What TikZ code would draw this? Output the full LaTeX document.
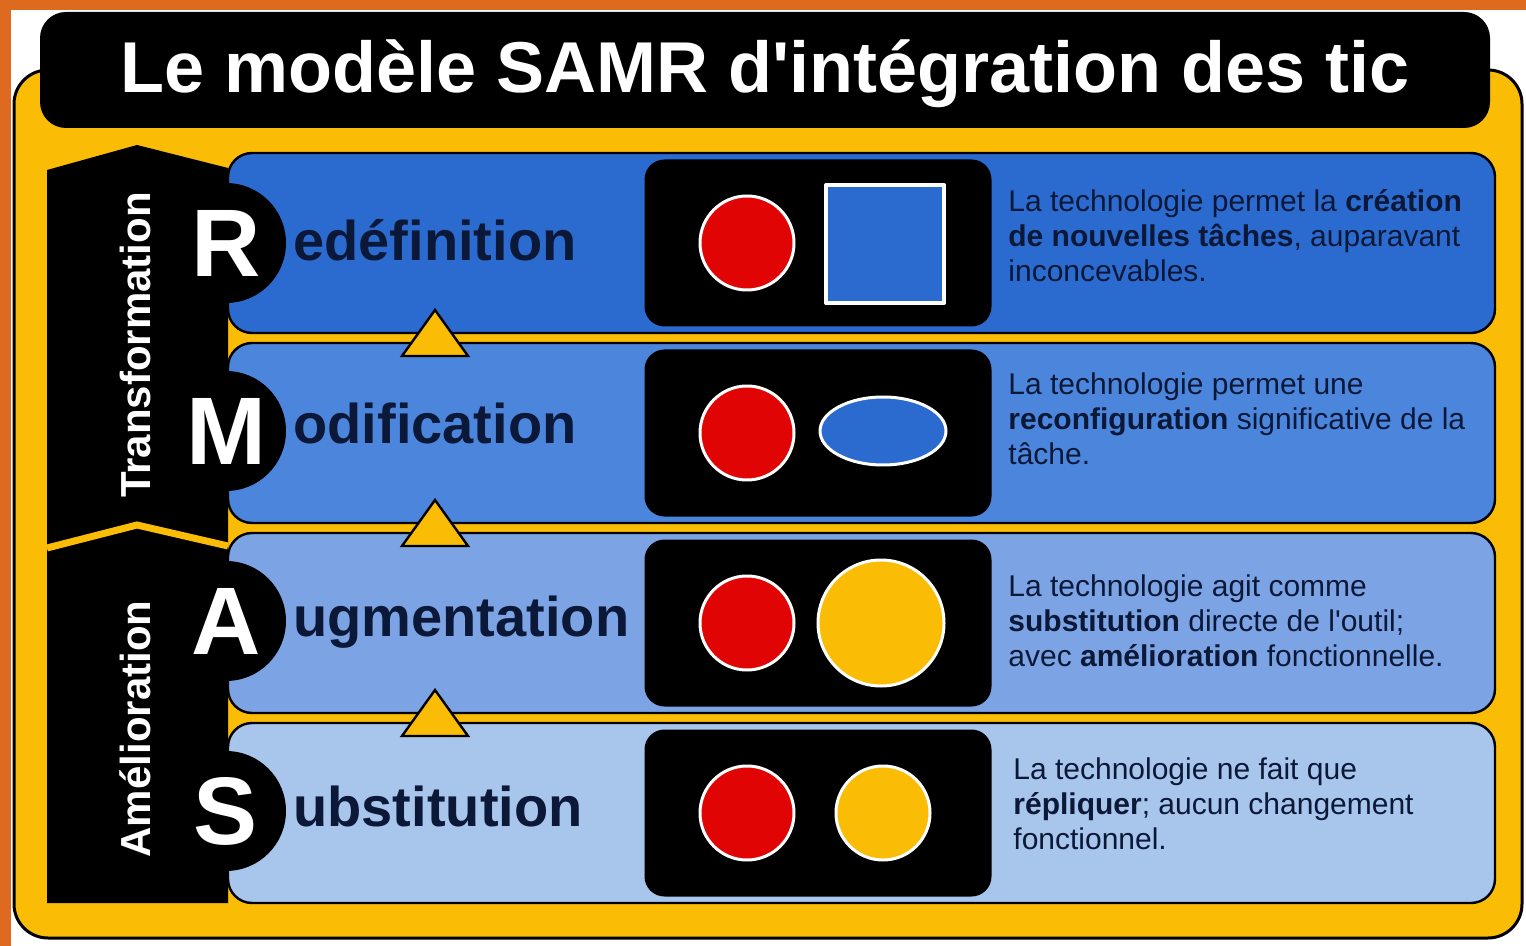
\documentclass[tikz,border=0pt]{standalone}
\usepackage{fontspec}
\setmainfont{Liberation Sans}[Ligatures=TeXOff]
\usetikzlibrary{shapes.geometric}
\definecolor{orangebg}{RGB}{222,106,32}
\definecolor{samryellow}{RGB}{250,188,5}
\definecolor{navy}{RGB}{12,24,56}
\definecolor{bandR}{RGB}{43,107,207}
\definecolor{bandM}{RGB}{76,134,220}
\definecolor{bandA}{RGB}{124,164,228}
\definecolor{bandS}{RGB}{168,197,236}
\definecolor{samrred}{RGB}{224,4,4}
\tikzset{
    band/.style={draw=black,line width=1.2pt,rounded corners=12pt},
    iconbox/.style={fill=black,rounded corners=10pt,minimum width=173.5pt,minimum height=83.5pt},
    disc/.style={circle,fill=black,minimum size=60pt,inner sep=0pt,text=white,font=\fontsize{48}{48}\selectfont\bfseries},
    word/.style={anchor=base west,inner sep=0pt,text=navy,font=\fontsize{28}{28}\selectfont\bfseries},
    desc/.style={anchor=west,align=left,inner sep=0pt,text=navy,font=\fontsize{15}{17.5}\selectfont},
    redball/.style={circle,fill=samrred,draw=white,line width=1.5pt,minimum size=47pt,inner sep=0pt},
    sidelabel/.style={rotate=90,inner sep=0pt,text=white,font=\fontsize{21}{21}\selectfont\bfseries},
    uptri/.style={fill=samryellow,draw=black,line width=1.2pt,line join=miter}
}
\begin{document}
\begin{tikzpicture}[x=0.5pt,y=-0.5pt,line join=round]
\useasboundingbox (0,0) rectangle (1526,946);
% background and frame
\fill[white] (0,0) rectangle (1526,946);
\fill[orangebg] (0,0) rectangle (1526,10);
\fill[orangebg] (0,0) rectangle (11,946);
\draw[fill=samryellow,line width=1.5pt,rounded corners=17pt] (14,70) rectangle (1522,938);
% title
\fill[rounded corners=13pt] (40,12) rectangle (1490,128);
\node[anchor=base,inner sep=0pt,text=white,font=\fontsize{36}{36}\selectfont\bfseries] (title) at (765,93) {Le modèle SAMR d'intégration des tic};
% bands
\foreach \c/\yt in {bandR/153,bandM/343,bandA/533,bandS/723}
  \draw[band,fill=\c] (228,\yt) rectangle (1495,\yt+180);
% left column
\fill (47,170) -- (137,145) -- (228,168) -- (228,903) -- (47,903) -- cycle;
\draw[samryellow,line width=3.5pt,line join=miter] (47,548) -- (137,525) -- (228,546);
\node[sidelabel] (transf) at (135,345) {Transformation};
\node[sidelabel] (amel) at (135,729) {Amélioration};
% letters, words and black boxes
\foreach \ltr/\rest/\yc/\yb/\yi in {R/edéfinition/243/261/243,M/odification/431/444/433,A/ugmentation/621/636/623,S/ubstitution/811/826/813}{
  \node[disc] (\ltr) at (226,\yc) {\ltr};
  \node[word] (w\ltr) at (293,\yb) {\rest};
  \node[iconbox] (box\ltr) at (818,\yi) {};
  \node[redball] (red\ltr) at (747,\yi) {};
}
% second shapes
\node[rectangle,fill=bandR,draw=white,line width=2pt,minimum size=59pt,inner sep=0pt] (sqR) at (885,244) {};
\node[ellipse,fill=bandR,draw=white,line width=1.5pt,minimum width=63pt,minimum height=34pt,inner sep=0pt] (ellM) at (883,431) {};
\node[circle,fill=samryellow,draw=white,line width=1.5pt,minimum size=63pt,inner sep=0pt] (goldA) at (881,623) {};
\node[circle,fill=samryellow,draw=white,line width=1.5pt,minimum size=47pt,inner sep=0pt] (goldS) at (883,813) {};
% triangles between levels
\foreach \g in {338,528,718}
  \draw[uptri] (402,\g+18) -- (435,\g-28) -- (468,\g+18) -- cycle;
% descriptions
\node[desc] (dR) at (1008,236) {La technologie permet la \textbf{création}\\\textbf{de nouvelles tâches}, auparavant\\inconcevables.};
\node[desc] (dM) at (1008,419) {La technologie permet une\\\textbf{reconfiguration} significative de la\\tâche.};
\node[desc] (dA) at (1008,621) {La technologie agit comme\\\textbf{substitution} directe de l'outil;\\avec \textbf{amélioration} fonctionnelle.};
\node[desc] (dS) at (1013,804) {La technologie ne fait que\\\textbf{répliquer}; aucun changement\\fonctionnel.};
\end{tikzpicture}
\end{document}
